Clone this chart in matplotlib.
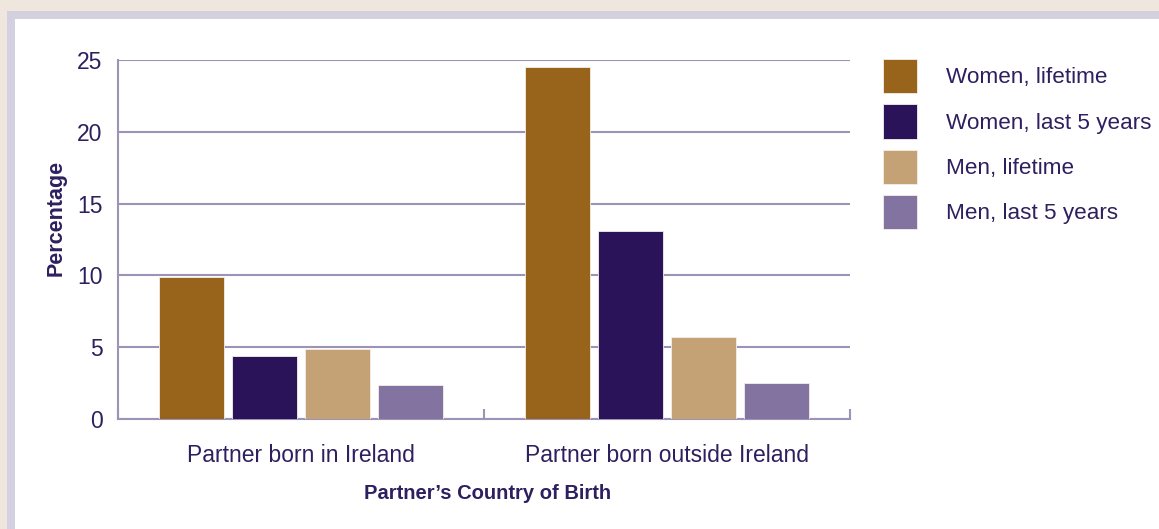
import numpy as np
import matplotlib.pyplot as plt
from matplotlib.patches import Rectangle, Patch

# chart data
categories = ["Partner born in Ireland", "Partner born outside Ireland"]
series = ["Women, lifetime", "Women, last 5 years", "Men, lifetime", "Men, last 5 years"]
women_lifetime = [9.9, 24.5]
women_5yrs = [4.4, 13.1]
men_lifetime = [4.9, 5.7]
men_5yrs = [2.4, 2.5]
yticks = [0, 5, 10, 15, 20, 25]

colors = ["#98631a", "#2b135a", "#c4a275", "#8373a0"]
text_color = "#2e1f5e"
line_color = "#9d93b8"

plt.rcParams['font.family'] = ['Liberation Sans', 'DejaVu Sans']

fig = plt.figure(figsize=(11.59, 5.29), dpi=100)
fig.patch.set_facecolor("#efe7dd")

W, H = 1159, 529
# lavender frame and white panel
fig.add_artist(Rectangle((7 / W, 0), 1, (H - 11) / H, transform=fig.transFigure,
                         facecolor="#d3d0e0", edgecolor="none", zorder=0))
fig.add_artist(Rectangle((15 / W, 0), 1, (H - 19) / H, transform=fig.transFigure,
                         facecolor="white", edgecolor="none", zorder=0))

ax = fig.add_axes([118 / W, (H - 419) / H, (850 - 118) / W, (419 - 60) / H])
ax.set_facecolor("none")

x = np.arange(len(categories))
width = 0.178
step = 0.2
all_vals = [women_lifetime, women_5yrs, men_lifetime, men_5yrs]
for i, vals in enumerate(all_vals):
    ax.bar(x + (i - 1.5) * step, vals, width, color=colors[i],
           edgecolor="#f4efe8", linewidth=0.6, zorder=3, label=series[i])

ax.set_xlim(-0.5, 1.5)
ax.set_ylim(0, 25)
ax.set_yticks(yticks)
ax.tick_params(axis="y", length=0, pad=11, labelsize=16.5, labelcolor=text_color)
ax.set_xticks(x)
ax.set_xticklabels(categories)
ax.tick_params(axis="x", which="major", length=0, pad=18, labelsize=16.5,
               labelcolor=text_color)
ax.set_xticks([-0.5, 0.5, 1.5], minor=True)
ax.tick_params(axis="x", which="minor", direction="in", length=7, width=1.5,
               color=line_color)

ax.yaxis.grid(True, color=line_color, linewidth=1.5, zorder=1)
ax.set_axisbelow(True)
for s in ["top", "right"]:
    ax.spines[s].set_visible(False)
for s in ["left", "bottom"]:
    ax.spines[s].set_color(line_color)
    ax.spines[s].set_linewidth(1.5)

ax.set_ylabel("Percentage", fontsize=15.5, fontweight="bold", color=text_color)
ax.yaxis.set_label_coords(-0.070, 0.56)
ax.set_xlabel("Partner\u2019s Country of Birth", fontsize=14.5, fontweight="bold",
              color=text_color)
ax.xaxis.set_label_coords(0.505, -0.181)

handles = [Patch(facecolor=c, edgecolor="#f4efe8", linewidth=0.6) for c in colors]
leg = fig.legend(handles, series, loc="upper left",
                 bbox_to_anchor=(874 / W, (H - 50) / H), frameon=False,
                 fontsize=16.2, handlelength=1.53, handleheight=1.97,
                 handletextpad=1.28, labelspacing=0.49, borderaxespad=0)
for t in leg.get_texts():
    t.set_color(text_color)

fig.savefig("out.png", dpi=100, facecolor=fig.get_facecolor())
